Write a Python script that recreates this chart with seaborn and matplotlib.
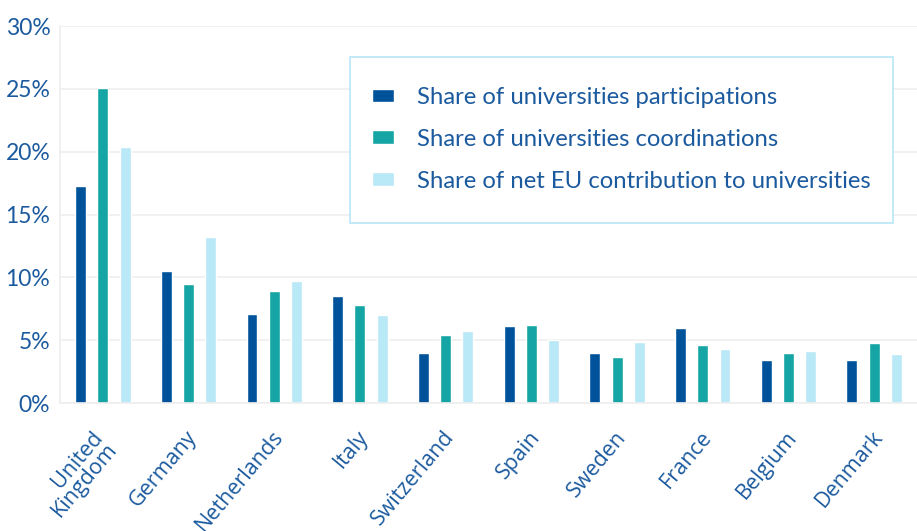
import matplotlib
matplotlib.use("Agg")
import matplotlib.pyplot as plt
import matplotlib.patches as mpatches
from matplotlib.transforms import ScaledTranslation
import seaborn as sns
import pandas as pd
import numpy as np

countries = ["United\nKingdom", "Germany", "Netherlands", "Italy", "Switzerland",
             "Spain", "Sweden", "France", "Belgium", "Denmark"]
participations = [17.3, 10.5, 7.1, 8.5, 4.0, 6.1, 4.0, 6.0, 3.45, 3.45]
coordinations = [25.05, 9.5, 8.9, 7.8, 5.4, 6.2, 3.7, 4.6, 4.0, 4.8]
net_contribution = [20.4, 13.2, 9.7, 7.0, 5.75, 5.0, 4.85, 4.3, 4.1, 3.9]
series_names = ["Share of universities participations",
                "Share of universities coordinations",
                "Share of net EU contribution to universities"]
yticks = [0, 5, 10, 15, 20, 25, 30]

df = pd.DataFrame({
    "country": countries * 3,
    "value": participations + coordinations + net_contribution,
    "series": [series_names[0]] * 10 + [series_names[1]] * 10 + [series_names[2]] * 10,
})

text_color = "#1b5a9e"
palette = ["#00539b", "#16a5a5", "#b9e8f6"]

sns.set_theme(style="white")
plt.rcParams["font.family"] = ["Lato", "DejaVu Sans"]

W, H = 917, 531
fig = plt.figure(figsize=(W / 100, H / 100), dpi=100)
ax = fig.add_axes([60 / W, 1 - 403 / H, 1 - 60 / W, (403 - 26) / H])

sns.barplot(data=df, x="country", y="value", hue="series", palette=palette,
            width=0.78, gap=0.51, ax=ax, saturation=1, legend=True)

ax.set_ylim(0, 30)
ax.set_xlim(-0.5, 9.5)
ax.set_yticks(yticks)
ax.set_yticklabels([f"{v}%" for v in yticks], fontsize=16.5, color=text_color)
ax.yaxis.grid(True, color="#efefef", linewidth=1.2)
ax.set_axisbelow(True)
ax.set_xlabel("")
ax.set_ylabel("")

for s in ["top", "right"]:
    ax.spines[s].set_visible(False)
for s in ["left", "bottom"]:
    ax.spines[s].set_color("#eeeeee")
    ax.spines[s].set_linewidth(1.2)

ax.tick_params(axis="y", length=0, pad=7)
ax.tick_params(axis="x", which="major", length=0, pad=17)
ax.set_xticks(np.arange(0.5, 9.5, 1), minor=True)
ax.tick_params(axis="x", which="minor", direction="in", length=8, color="#eeeeee", width=1.2)

for i, lbl in enumerate(ax.get_xticklabels()):
    lbl.set_rotation(50)
    lbl.set_ha("right")
    lbl.set_va("top")
    lbl.set_rotation_mode("anchor")
    lbl.set_color(text_color)
    lbl.set_fontsize(15.5)
    lbl.set_family(["Open Sans", "DejaVu Sans"])
    lbl.set_linespacing(0.9)
    dx = -0.03 if "\n" not in lbl.get_text() else -0.12
    lbl.set_transform(lbl.get_transform() + ScaledTranslation(dx, 0, fig.dpi_scale_trans))

# legend box (frame drawn separately)
box = mpatches.Rectangle((350 / W, 1 - 223 / H), (893 - 350) / W, (223 - 57) / H,
                         transform=fig.transFigure, facecolor="white",
                         edgecolor="#b8e6f5", linewidth=1.2, zorder=4, clip_on=False)
ax.add_patch(box)

leg = ax.legend(loc="upper left",
                bbox_to_anchor=(372 / W, 1 - 87 / H), bbox_transform=fig.transFigure,
                frameon=False, fontsize=17.2, handlelength=0.9,
                handleheight=0.5, handletextpad=1.0, labelspacing=0.87,
                borderpad=0, borderaxespad=0)
leg.set_zorder(6)
for t in leg.get_texts():
    t.set_color(text_color)

fig.savefig("out.png", dpi=100)
